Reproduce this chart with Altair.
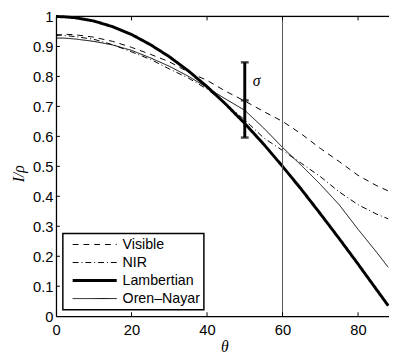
import altair as alt
import pandas as pd

THETA = [0, 2, 5, 10, 15, 20, 25, 30, 35, 40, 45, 50, 55, 60, 65, 70, 75, 80, 85, 88]
VISIBLE = [0.935, 0.941, 0.939, 0.931, 0.917, 0.897, 0.874, 0.849, 0.815, 0.787,
           0.750, 0.718, 0.683, 0.650, 0.608, 0.560, 0.516, 0.470, 0.435, 0.418]
NIR = [0.940, 0.937, 0.933, 0.924, 0.906, 0.882, 0.857, 0.825, 0.795, 0.758,
       0.708, 0.655, 0.595, 0.553, 0.510, 0.466, 0.415, 0.372, 0.340, 0.325]
LAMBERTIAN = [1.000, 0.999, 0.996, 0.985, 0.966, 0.940, 0.906, 0.866, 0.819, 0.766,
              0.707, 0.643, 0.574, 0.500, 0.423, 0.342, 0.259, 0.174, 0.087, 0.035]
OREN_NAYAR = [0.928, 0.928, 0.925, 0.917, 0.905, 0.887, 0.862, 0.834, 0.801, 0.763,
              0.724, 0.687, 0.628, 0.563, 0.503, 0.440, 0.372, 0.290, 0.212, 0.163]

SERIES = ["Visible", "NIR", "Lambertian", "Oren\u2013Nayar"]
SERIES_VALUES = [VISIBLE, NIR, LAMBERTIAN, OREN_NAYAR]

VLINE_THETA = [60]
SIGMA_THETA = 50
SIGMA_LO, SIGMA_MID, SIGMA_HI = 0.596, 0.720, 0.847

X_TICKS = [0, 20, 40, 60, 80]
Y_TICKS = [0, 0.1, 0.2, 0.3, 0.4, 0.5, 0.6, 0.7, 0.8, 0.9, 1]

W, H = 340, 306
TOP = 5

rows = []
for name, vals in zip(SERIES, SERIES_VALUES):
    for t, v in zip(THETA, vals):
        rows.append({"theta": t, "value": v, "series": name})
df = pd.DataFrame(rows)

xscale = alt.Scale(domain=[0, 88.2], nice=False, zero=False)
yscale = alt.Scale(domain=[0, 1], nice=False)

x_axis = alt.Axis(values=X_TICKS, ticks=False, grid=False, domainColor="black", domainWidth=1.3,
                  labelFont="Liberation Sans", labelFontSize=15, labelColor="black", labelPadding=7,
                  labelOverlap=False, labelFlush=False,
                  title="\u03b8", titleFont="Liberation Serif", titleFontStyle="italic",
                  titleFontWeight="normal", titleFontSize=16, titleColor="black", titlePadding=1,
                  titleX=172)
y_axis = alt.Axis(values=Y_TICKS, format=".1~f", ticks=False, grid=False, domainColor="black",
                  domainWidth=1.3, labelFont="Liberation Sans", labelFontSize=15, labelColor="black",
                  labelPadding=3, labelOverlap=False, labelFlush=False, labelBound=False,
                  title="I/\u03c1", titleFont="Liberation Serif", titleFontStyle="italic",
                  titleFontWeight="normal", titleFontSize=16, titleColor="black", titlePadding=6,
                  titleY=160)


def X(field):
    return alt.X(field, scale=xscale, axis=x_axis)


def Y(field):
    return alt.Y(field, scale=yscale, axis=y_axis)


dash = alt.StrokeDash("series:N", scale=alt.Scale(type="ordinal", domain=SERIES,
                                                  range=[[6, 5], [6, 3, 1, 3], [1, 0], [1, 0]]), legend=None)
swidth = alt.StrokeWidth("series:N", scale=alt.Scale(type="ordinal", domain=SERIES, range=[1, 1, 3, 1]),
                         legend=None)

lines = alt.Chart(df).mark_line(color="black").encode(
    x=X("theta:Q"), y=Y("value:Q"), strokeDash=dash, strokeWidth=swidth, detail="series:N",
)

vline = alt.Chart(pd.DataFrame({"theta": VLINE_THETA})).mark_rule(color="#555555", strokeWidth=1).encode(
    x=X("theta:Q")
)

sig_df = pd.DataFrame({"theta": [SIGMA_THETA], "lo": [SIGMA_LO], "hi": [SIGMA_HI]})
sig_bar = alt.Chart(sig_df).mark_rule(color="black", strokeWidth=3).encode(
    x=X("theta:Q"), y=Y("lo:Q"), y2="hi:Q"
)
caps_df = pd.DataFrame({"theta": [SIGMA_THETA] * 3, "v": [SIGMA_LO, SIGMA_MID, SIGMA_HI]})
sig_caps = alt.Chart(caps_df).mark_tick(color="black", orient="horizontal", size=8, thickness=2.5).encode(
    x=X("theta:Q"), y=Y("v:Q")
)
sig_text = alt.Chart(pd.DataFrame({"theta": [SIGMA_THETA], "v": [0.784], "t": ["\u03c3"]})).mark_text(
    font="Liberation Serif", fontStyle="italic", fontSize=16, color="black", dx=12, align="center", baseline="middle"
).encode(x=X("theta:Q"), y=Y("v:Q"), text="t:N")

# inward ticks
xt = pd.DataFrame({"theta": X_TICKS[1:]})
xt_bottom = alt.Chart(xt).mark_rule(color="black", strokeWidth=1).encode(
    x=X("theta:Q"), y=alt.value(H), y2=alt.value(H - 4))
xt_top = alt.Chart(xt).mark_rule(color="black", strokeWidth=1).encode(
    x=X("theta:Q"), y=alt.value(0), y2=alt.value(4))
yt = pd.DataFrame({"v": Y_TICKS[1:]})
yt_left = alt.Chart(yt).mark_rule(color="black", strokeWidth=1).encode(
    y=Y("v:Q"), x=alt.value(0), x2=alt.value(4))
top_border = alt.Chart(pd.DataFrame({"a": [0]})).mark_rule(color="black", strokeWidth=1.3).encode(
    x=alt.value(0), x2=alt.value(W), y=alt.value(0))

# legend
leg_df = pd.DataFrame({"series": SERIES})
LY = 224.5 - (TOP - 2)
legend_box = alt.Chart(pd.DataFrame({"a": [0]})).mark_rect(fill="white", stroke="black", strokeWidth=1.5).encode(
    x=alt.value(7), x2=alt.value(151), y=alt.value(LY), y2=alt.value(LY + 78))
legend_layers = [legend_box]
for i, name in enumerate(SERIES):
    yy = LY + 11.3 + i * 18.4
    legend_layers.append(
        alt.Chart(leg_df).transform_filter(alt.datum.series == name).mark_rule(color="black").encode(
            x=alt.value(17), x2=alt.value(62), y=alt.value(yy), strokeDash=dash, strokeWidth=swidth)
    )
    legend_layers.append(
        alt.Chart(leg_df).transform_filter(alt.datum.series == name).mark_text(
            align="left", baseline="middle", font="Liberation Sans", fontSize=14.5, color="black").encode(
            x=alt.value(68), y=alt.value(yy + 0.5), text="series:N")
    )

chart = alt.layer(
    lines, vline, sig_bar, sig_caps, sig_text, xt_bottom, xt_top, yt_left, top_border, *legend_layers
).properties(
    width=W, height=H,
    padding={"left": 49, "top": TOP, "right": 0, "bottom": 38},
    autosize=alt.AutoSizeParams(type="none"),
).configure_view(stroke=None).configure_axis(labelOverlap=False).configure(background="white")

chart.save("out.html", embed_options={"renderer": "svg", "actions": False})
